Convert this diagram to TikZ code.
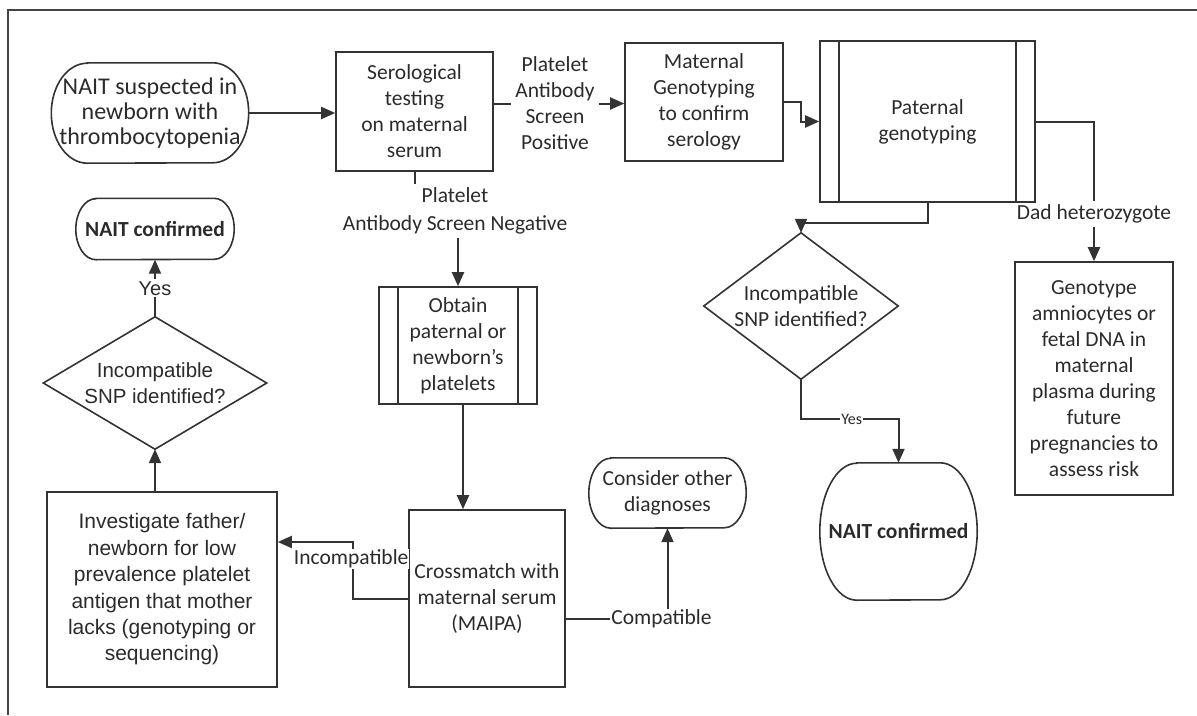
\documentclass[tikz,border=0pt]{standalone}
\usepackage{fontspec}
\setmainfont{Carlito}
\newfontfamily\arialf{Liberation Sans}
\usetikzlibrary{arrows.meta,calc}
\definecolor{lc}{HTML}{333333}
\definecolor{tc}{HTML}{2B2B2B}
\definecolor{fc}{HTML}{444444}
\newcommand\termdraw[3]{\draw[shapeline] ($(#1.north west)+(#2,0)$) -- ($(#1.north east)+(-#2,0)$) arc[start angle=90,end angle=-90,x radius=#2pt,y radius=#3pt] -- ($(#1.south west)+(#2,0)$) arc[start angle=270,end angle=90,x radius=#2pt,y radius=#3pt] -- cycle;}
\newcommand\diamdraw[1]{\draw[shapeline] (#1.north) -- (#1.east) -- (#1.south) -- (#1.west) -- cycle;}
\newcommand\ppdraw[2]{\draw[shapeline] ([xshift=#2pt]#1.north west) -- ([xshift=#2pt]#1.south west); \draw[shapeline] ([xshift=-#2pt]#1.north east) -- ([xshift=-#2pt]#1.south east);}
\begin{document}
\begin{tikzpicture}[x=1pt,y=-1pt,
  every node/.style={text=tc, font=\fontsize{21.5}{26}\selectfont, inner sep=0pt, align=center},
  shapeline/.style={draw=lc, line width=1.6pt},
  conn/.style={draw=lc, line width=2pt},
  arr/.style={conn, -{Triangle[length=14pt,width=12pt]}},
  box/.style={rectangle, draw=lc, line width=1.6pt},
  lbl/.style={fill=white, inner sep=3pt}]
\useasboundingbox (0,0) rectangle (1197,715);
% frame
\draw[draw=fc, line width=2pt] (8,715) -- (8,10) -- (1197,10);

% nodes
\node[minimum width=197pt, minimum height=100pt, font=\fontsize{24}{25}\selectfont] (start) at (150,113) {NAIT suspected in\\newborn with\\thrombocytopenia};
\termdraw{start}{36}{50}
\node[box, minimum width=157pt, minimum height=119pt] (sero) at (414.5,111.5) {Serological\\testing\\on maternal\\serum};
\node[lbl, fill=none, inner sep=4pt] (poslbl) at (555,103.5) {Platelet\\Antibody\\Screen\\Positive};
\node[box, minimum width=158pt, minimum height=118pt] (mat) at (704,102) {Maternal\\Genotyping\\to confirm\\serology};
\node[box, minimum width=215pt, minimum height=161pt] (pat) at (927.5,121.5) {Paternal\\genotyping};
\ppdraw{pat}{20}
\node[inner sep=3pt, font=\fontsize{21.5}{28}\selectfont] (neglbl) at (455,211) {Platelet\\Antibody Screen Negative};
\node[minimum width=158pt, minimum height=61pt, font=\bfseries\fontsize{21.5}{26}\selectfont] (ncL) at (155,229) {NAIT confirmed};
\termdraw{ncL}{20}{30.5}
\node[minimum width=223pt, minimum height=132pt, font=\arialf\fontsize{20.5}{26}\selectfont] (diamL) at (155,383) {Incompatible\\SNP identified?};
\diamdraw{diamL}
\node[box, minimum width=158pt, minimum height=117pt] (obtain) at (458,345.5) {Obtain\\paternal or\\newborn’s\\platelets};
\ppdraw{obtain}{20}
\node[box, minimum width=156pt, minimum height=177pt] (cross) at (487,598.5) {Crossmatch with\\maternal serum\\(MAIPA)};
\node[box, minimum width=230pt, minimum height=195pt, font=\arialf\fontsize{21}{26.4}\selectfont] (invest) at (162,589.5) {Investigate father/\\newborn for low\\prevalence platelet\\antigen that mother\\lacks (genotyping or\\sequencing)};
\node[minimum width=157pt, minimum height=70pt] (consider) at (667.5,493) {Consider other\\diagnoses};
\termdraw{consider}{22}{35}
\node[minimum width=194pt, minimum height=146pt] (diamR) at (801,306) {Incompatible\\SNP identified?};
\diamdraw{diamR}
\node[minimum width=157pt, minimum height=137pt, font=\bfseries\fontsize{21.5}{26}\selectfont] (ncR) at (898.5,531.5) {NAIT confirmed};
\termdraw{ncR}{37}{68.5}
\node[inner sep=3pt] (dadlbl) at (1094,214) {Dad heterozygote};
\node[box, minimum width=158pt, minimum height=233pt] (geno) at (1094,378.5) {Genotype\\amniocytes or\\fetal DNA in\\maternal\\plasma during\\future\\pregnancies to\\assess risk};

% connectors
\draw[arr] (start.east) -- (start.east -| sero.west);
\draw[conn] (poslbl.west -| sero.east) -- (poslbl.west);
\draw[arr] (poslbl.east) -- (poslbl.east -| mat.west);
\draw[arr] (mat.east) -- ++(17,0) |- (pat.west);
\draw[arr] (pat.south) -- ++(0,20) -| (diamR.north);
\draw[conn] (pat.east) -| (dadlbl.north);
\draw[arr] (dadlbl.south) -- (geno.north);
\draw[arr] (diamR.south) -- ++(0,40) -| node[lbl, pos=0.26, inner sep=1pt, font=\fontsize{16}{18}\selectfont] {Yes} (ncR.north);
\draw[conn] (sero.south) -- (sero.south |- neglbl.north);
\draw[arr] (obtain.north |- neglbl.south) -- (obtain.north);
\draw[arr] ([xshift=5pt]obtain.south) -- ([xshift=5pt]obtain.south |- cross.north);
\draw[arr] (cross.west) -- ++(-55,0) |- node[lbl, pos=0.35, inner sep=1pt, xshift=-2pt] {Incompatible} ([yshift=47.5pt]invest.east);
\draw[arr] ([yshift=-20.5pt]cross.east) -| node[lbl, pos=0.5, inner sep=1pt, xshift=-6pt] {Compatible} (consider.south);
\draw[arr] (diamL.south |- invest.north) -- (diamL.south);
\draw[arr] (diamL.north) -- node[lbl, inner sep=2pt, font=\arialf\fontsize{20}{22}\selectfont] {Yes} (ncL.south);
\end{tikzpicture}
\end{document}
